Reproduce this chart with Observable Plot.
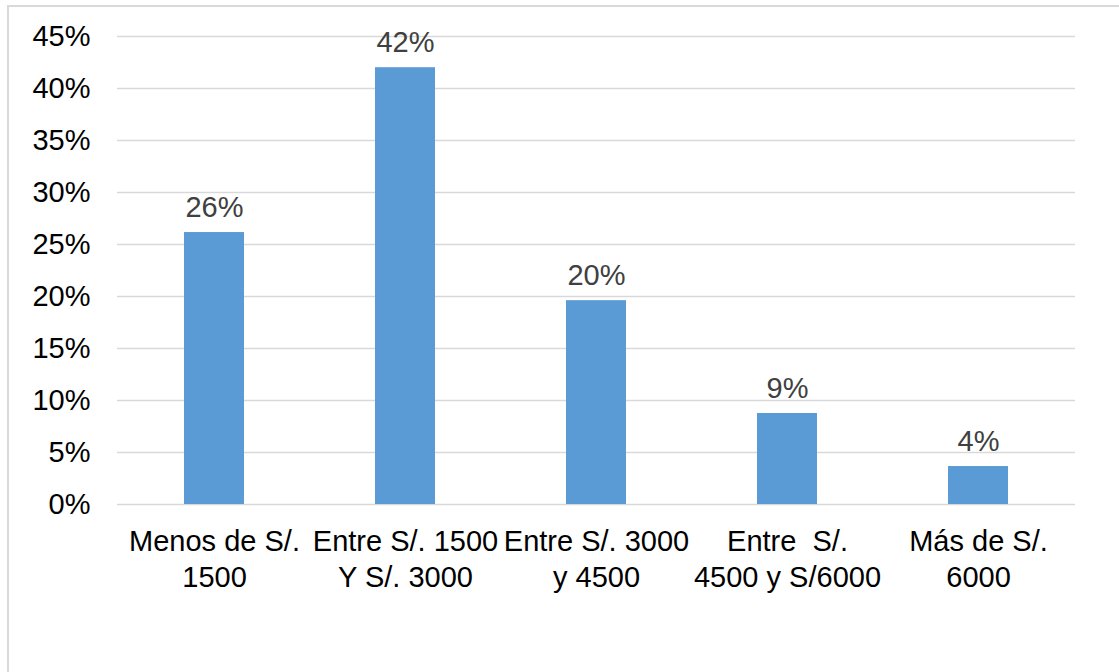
<!DOCTYPE html>
<html>
<head>
<meta charset="utf-8">
<script src="https://cdn.jsdelivr.net/npm/d3@7"></script>
<script src="https://cdn.jsdelivr.net/npm/@observablehq/plot@0.6"></script>
<style>
  html, body { margin: 0; padding: 0; background: #fff; }
  #wrap { position: relative; width: 1119px; height: 672px; overflow: hidden; }
  #frame { position: absolute; left: 7px; top: 5px; width: 1200px; height: 800px;
           border-left: 2px solid #d9d9d9; border-top: 2px solid #d9d9d9; pointer-events: none; }
  #chart svg { display: block; white-space: pre; }
</style>
</head>
<body>
<div id="wrap">
  <div id="chart"></div>
  <div id="frame"></div>
</div>
<script>
const categories = [
  "Menos de S/.\n1500",
  "Entre S/. 1500\nY S/. 3000",
  "Entre S/. 3000\ny 4500",
  "Entre  S/.\n4500 y S/6000",
  "Más de S/.\n6000"
];
const values = [26.15, 42.0, 19.6, 8.75, 3.65];
const valueLabels = ["26%", "42%", "20%", "9%", "4%"];
const yTicks = [0, 5, 10, 15, 20, 25, 30, 35, 40, 45];

const data = categories.map((c, i) => ({ cat: c, value: values[i], label: valueLabels[i] }));

const chart = Plot.plot({
  width: 1119,
  height: 672,
  marginLeft: 117,
  marginRight: 44,
  marginTop: 36,
  marginBottom: 168,
  style: { fontFamily: "'Liberation Sans', Arial, sans-serif", background: "transparent" },
  x: { domain: categories, paddingInner: 0.687, paddingOuter: 0.3435, label: null },
  y: { domain: [0, 45], label: null },
  marks: [
    Plot.gridY(yTicks, { stroke: "#d9d9d9", strokeOpacity: 1, strokeWidth: 1.6 }),
    Plot.barY(data, { x: "cat", y: "value", fill: "#5b9bd5" }),
    Plot.text(data, { x: "cat", y: "value", text: "label", dy: -16, lineAnchor: "bottom",
                      fill: "#404040", fontSize: 29 }),
    Plot.axisY(yTicks, { tickSize: 0, tickPadding: 27, tickFormat: d => d + "%",
                         fontSize: 29, fill: "#000", label: null }),
    Plot.axisX({ tickSize: 0, tickPadding: 21, fontSize: 29, fill: "#000",
                 lineHeight: 1.24, label: null })
  ]
});
document.getElementById("chart").appendChild(chart);
</script>
</body>
</html>
